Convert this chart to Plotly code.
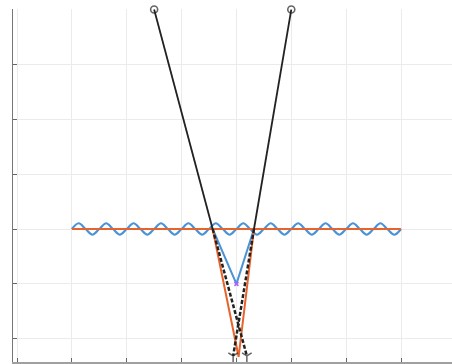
import plotly.graph_objects as go

# Surface wave: crest positions along the line, with its amplitude
wave_crests = [1.125, 1.625, 2.125, 2.625, 3.125, 3.625, 4.125, 4.625, 5.125, 5.625, 6.125, 6.625]
wave_amp = 0.105
wave_start, wave_end = 1.0, 7.0

# Flat surface line
surface_x = [1.0, 7.0]
surface_y = [0.0, 0.0]

# Incoming rays (solid): from sources down to the surface
ray_left_x = [2.5, 3.567]
ray_left_y = [4.0, 0.0]
ray_right_x = [5.0, 4.32]
ray_right_y = [4.0, 0.0]

# Straight continuation of the rays below the surface (dotted)
cont_left_x = [3.567, 4.19]
cont_left_y = [0.0, -2.315]
cont_right_x = [4.32, 3.94]
cont_right_y = [0.0, -2.315]

# Refracted rays meeting below the surface
refr_x = [3.567, 4.04, 4.32]
refr_y = [0.0, -2.33, 0.0]

# Dip in the wave
dip_x = [3.567, 4.0, 4.32]
dip_y = [0.0, -1.0, 0.0]

BLUE = "#4a93d6"
ORANGE = "#e8622c"
BLACK = "#222222"

# build wave vertices at quarter periods and smooth them with a spline
wx, wy = [wave_start], [0.0]
for c in wave_crests:
    wx += [c, c + 0.125, c + 0.25, c + 0.375]
    wy += [wave_amp, 0.0, -wave_amp, 0.0]
wx[-1] = wave_end

fig = go.Figure()
fig.add_trace(go.Scatter(x=wx, y=wy, mode="lines",
                         line=dict(color=BLUE, width=2.2, shape="spline", smoothing=1.0)))
fig.add_trace(go.Scatter(x=surface_x, y=surface_y, mode="lines",
                         line=dict(color=ORANGE, width=2)))
fig.add_trace(go.Scatter(x=dip_x, y=dip_y, mode="lines",
                         line=dict(color=BLUE, width=2)))
fig.add_trace(go.Scatter(x=[dip_x[1]], y=[dip_y[1]], mode="markers",
                         marker=dict(symbol="x-thin-open", size=4, line=dict(color="#1f5f9a", width=1.5))))
fig.add_trace(go.Scatter(x=refr_x, y=refr_y, mode="lines",
                         line=dict(color=ORANGE, width=2)))
for cx, cy in [(cont_left_x, cont_left_y), (cont_right_x, cont_right_y)]:
    fig.add_trace(go.Scatter(x=cx, y=cy, mode="lines+markers",
                             line=dict(color=BLACK, width=2.5, dash="4px,2px"),
                             marker=dict(symbol=["circle", "y-down-open"], size=[0, 8],
                                         line=dict(color=BLACK, width=1.5)),
                             cliponaxis=False))
for rx, ry in [(ray_left_x, ray_left_y), (ray_right_x, ray_right_y)]:
    fig.add_trace(go.Scatter(x=rx, y=ry, mode="lines+markers",
                             line=dict(color=BLACK, width=1.8),
                             marker=dict(symbol=["circle-open", "circle"], size=[7, 0],
                                         line=dict(color=BLACK, width=1.6)),
                             cliponaxis=False))

axis_common = dict(showgrid=True, gridcolor="#ebebeb", gridwidth=1, zeroline=False,
                   ticks="inside", ticklen=4, tickcolor="#666666",
                   showticklabels=False, dtick=1, tick0=0)
fig.update_layout(
    width=452, height=364,
    margin=dict(l=13, r=0, t=9, b=2),
    paper_bgcolor="white", plot_bgcolor="white",
    showlegend=False,
    xaxis=dict(range=[-4 / 54.857, 435 / 54.857], showline=True,
               linecolor="#a0a0a0", linewidth=2.5, **axis_common),
    yaxis=dict(range=[-133 / 54.857, 220 / 54.857], showline=True,
               linecolor="#777777", linewidth=1.2, **axis_common),
)

fig.write_html("out.html")
